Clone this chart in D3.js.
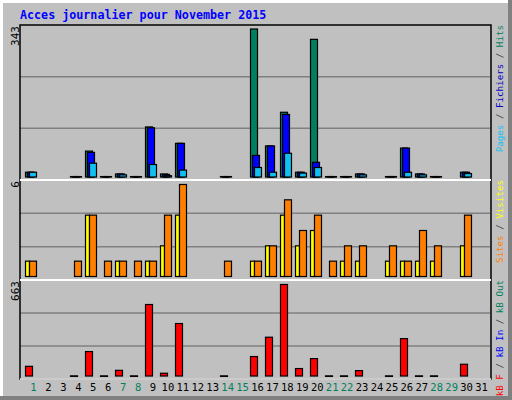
<!DOCTYPE html>
<html>
<head>
<meta charset="utf-8">
<script src="https://cdn.jsdelivr.net/npm/d3@7"></script>
<style>
body { margin: 0; background: #fff; }
text { font-family: "DejaVu Sans Mono", monospace; }
</style>
</head>
<body>
<div id="chart"></div>
<script>
// data
const days = d3.range(1, 32);
const weekend = [1, 7, 8, 14, 15, 21, 22, 28, 29];
const hits     = [11,0,0,1,60,1,7,1,116,7,78,0,0,1,0,343,72,150,11,319,1,1,7,0,1,67,7,1,0,11,0];
const fichiers = [11,0,0,1,57,1,7,1,114,6,78,0,0,1,0,50,72,145,11,34,1,1,7,0,1,67,7,1,0,11,0];
const pages    = [11,0,0,1,32,1,5,1,29,3,16,0,0,1,0,22,11,55,9,22,1,1,5,0,1,11,5,1,0,8,0];
const visites  = [1,0,0,0,4,0,1,0,1,2,4,0,0,0,0,1,2,4,2,3,0,1,1,0,1,1,1,1,0,2,0];
const sites    = [1,0,0,1,4,1,1,1,1,4,6,0,0,1,0,1,2,5,3,4,1,2,2,0,2,1,3,2,0,4,0];
const kb       = [70,0,0,1,177,1,41,1,518,20,380,0,0,1,0,141,281,663,54,126,1,1,39,0,1,271,1,1,0,85,0];

const W = 512, H = 400;
const svg = d3.select('#chart').append('svg').attr('width', W).attr('height', H);

svg.append('rect').attr('width', W).attr('height', H).attr('fill', '#808080');
svg.append('rect').attr('x', 0).attr('y', 0).attr('width', W - 4).attr('height', H - 4).attr('fill', '#ffffff');
svg.append('rect').attr('x', 3).attr('y', 3).attr('width', W - 7).attr('height', H - 7).attr('fill', '#c0c0c0');

svg.append('text').attr('x', 20).attr('y', 19)
    .attr('font-size', 11.7).attr('font-weight', 'bold').attr('fill', '#0000ff')
    .text('Acces journalier pour November 2015');

// slot left edge for day d
const x = d3.scaleLinear().domain([1, 32]).range([25, 490]);

const panels = [
    { top: 25, bottom: 180, base: 177, max: 343, peak: 29,
      series: [
          { v: hits, c: '#00805f', dx: 0, w: 8 },
          { v: fichiers, c: '#0000ff', dx: 2, w: 8 },
          { v: pages, c: '#10c0f0', dx: 4, w: 8 }],
      label: [['Pages', '#10c0f0'], [' / ', '#333'], ['Fichiers', '#0000c0'], [' / ', '#333'], ['Hits', '#00805f']] },
    { top: 180, bottom: 280, base: 276.5, max: 6, peak: 184.5,
      series: [
          { v: visites, c: '#ffff00', dx: 0, w: 5 },
          { v: sites, c: '#ff8000', dx: 4, w: 8 }],
      label: [['Sites', '#ff8000'], [' / ', '#333'], ['Visites', '#ffff00']] },
    { top: 280, bottom: 379, base: 376, max: 663, peak: 284.5,
      series: [{ v: kb, c: '#ff0000', dx: 0, w: 8 }],
      label: [['kB F', '#ff0000'], [' / ', '#333'], ['kB In', '#0000ff'], [' / ', '#333'], ['kB Out', '#00805f']] }
];

panels.forEach(function(p) {
    const y = d3.scaleLinear().domain([0, p.max]).range([p.base, p.peak]);
    const g = svg.append('g');
    const h = p.bottom - p.top;
    [1, 2].forEach(function(k) {
        g.append('line').attr('x1', 20).attr('x2', 490)
            .attr('y1', p.top + h * k / 3).attr('y2', p.top + h * k / 3)
            .attr('stroke', '#808080').attr('stroke-width', 1.5);
    });
    p.series.forEach(function(s) {
        g.selectAll(null)
            .data(days.filter((d, i) => s.v[i] > 0))
            .enter().append('rect')
            .attr('x', d => x(d) + s.dx + 0.5)
            .attr('y', d => y(s.v[d - 1]))
            .attr('width', s.w - 1)
            .attr('height', d => Math.max(0.5, p.base - y(s.v[d - 1])))
            .attr('fill', s.c).attr('stroke', '#000').attr('stroke-width', 1.2);
    });
    svg.append('text').attr('transform', `translate(19,${p.top + 1}) rotate(-90)`)
        .attr('text-anchor', 'end').attr('font-size', 11).attr('fill', '#000')
        .text(p.max);
    const t = svg.append('text').attr('transform', `translate(503,${p.top}) rotate(-90)`)
        .attr('text-anchor', 'end').attr('font-size', 9.2);
    p.label.forEach(function(l) {
        t.append('tspan').attr('fill', l[1]).text(l[0]);
    });
});

// frame lines
svg.append('rect').attr('x', 20).attr('y', 25).attr('width', 471).attr('height', 354)
    .attr('fill', 'none').attr('stroke', '#000').attr('stroke-width', 1.5);
[180, 280].forEach(function(yy) {
    svg.append('line').attr('x1', 20).attr('x2', 491).attr('y1', yy).attr('y2', yy)
        .attr('stroke', '#fff').attr('stroke-width', 2);
});
svg.append('line').attr('x1', 20).attr('x2', 491).attr('y1', 379).attr('y2', 379)
    .attr('stroke', '#fff').attr('stroke-width', 1.5);

// day axis
const axis = svg.append('g').attr('transform', 'translate(0,379)')
    .call(d3.axisBottom(d3.scaleLinear().domain([1, 31]).range([33, 481]))
        .tickValues(days).tickFormat(d3.format('d')).tickSize(0).tickPadding(5));
axis.select('.domain').remove();
axis.selectAll('text')
    .attr('font-family', '"DejaVu Sans Mono", monospace').attr('font-size', 10.5)
    .attr('fill', d => weekend.includes(d) ? '#00805f' : '#000');
</script>
</body>
</html>
